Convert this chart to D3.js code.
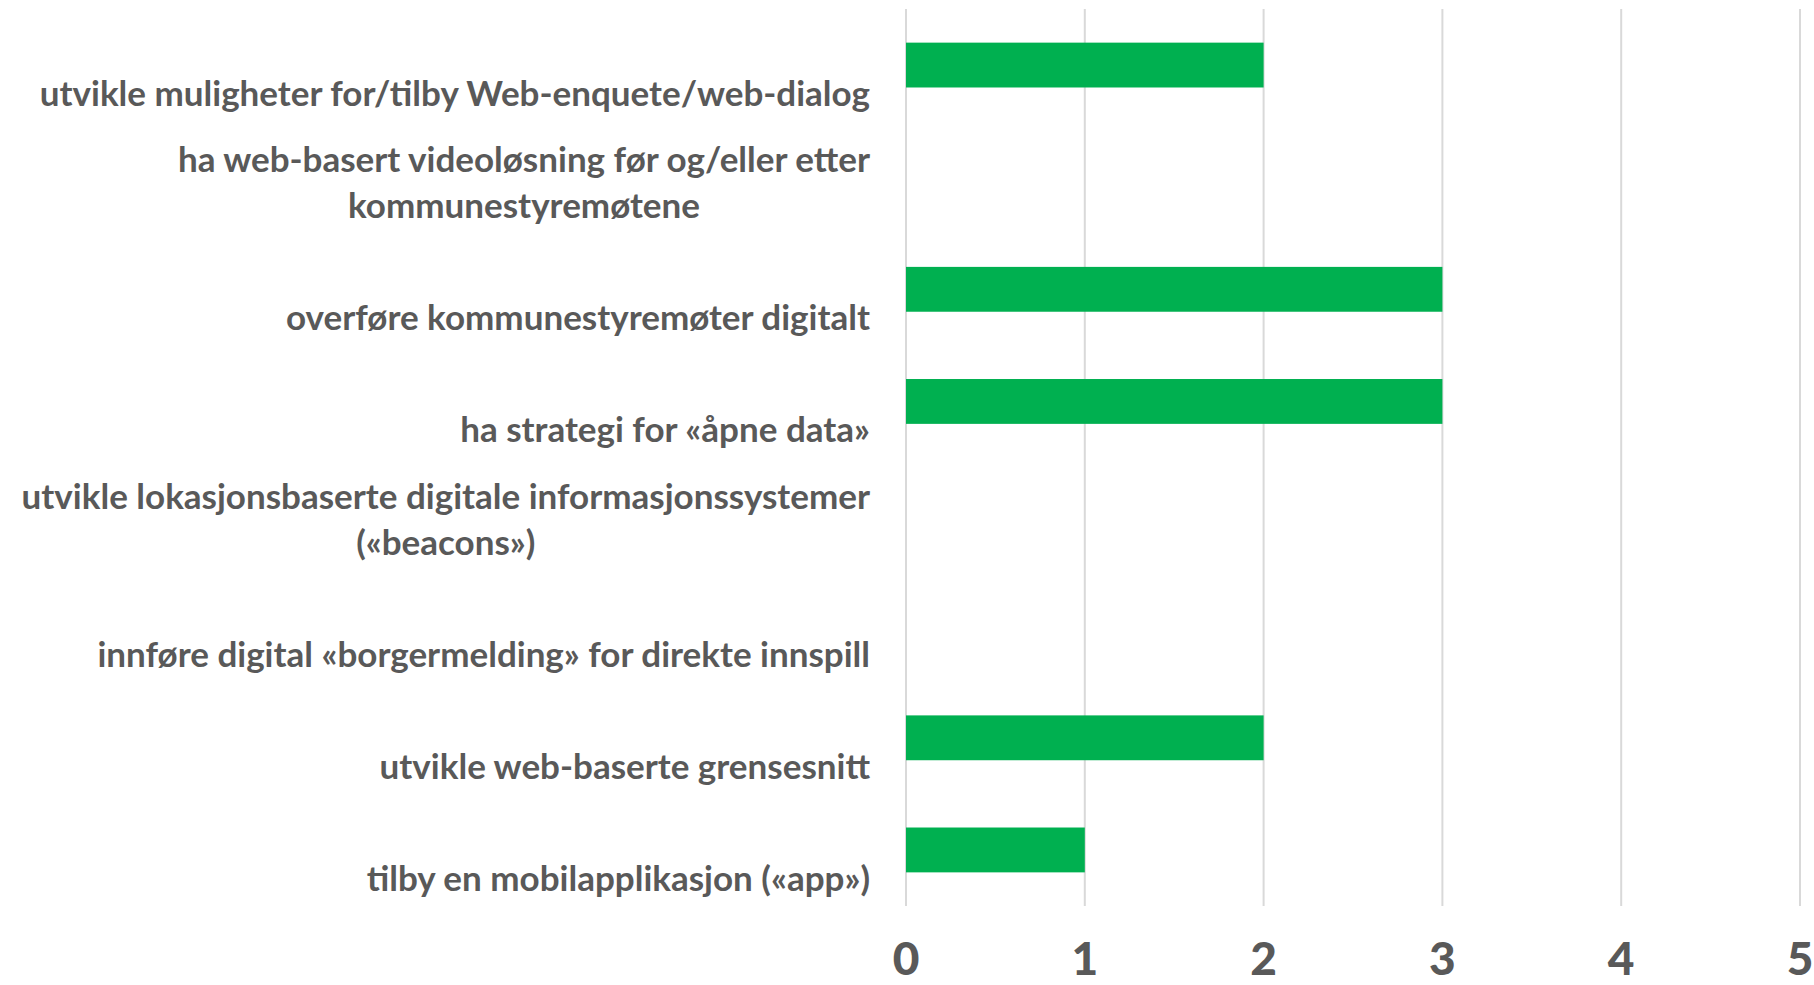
<!DOCTYPE html>
<html>
<head>
<meta charset="utf-8">
<script src="https://cdn.jsdelivr.net/npm/d3@7"></script>
<style>
  body { margin: 0; background: #fff; }
  svg { display: block; }
  text { font-family: Lato, "Open Sans", sans-serif; font-weight: bold; fill: #595959; }
</style>
</head>
<body>
<script>
"use strict";

// categories, top to bottom; each label split into its lines
var categories = [
    ["utvikle muligheter for/tilby Web-enquete/web-dialog"],
    ["ha web-basert videoløsning før og/eller etter", "kommunestyremøtene"],
    ["overføre kommunestyremøter digitalt"],
    ["ha strategi for «åpne data»"],
    ["utvikle lokasjonsbaserte digitale informasjonssystemer", "(«beacons»)"],
    ["innføre digital «borgermelding» for direkte innspill"],
    ["utvikle web-baserte grensesnitt"],
    ["tilby en mobilapplikasjon («app»)"]
];
var values = [2, 0, 3, 3, 0, 0, 2, 1];
var xTicks = [0, 1, 2, 3, 4, 5];

var W = 1814, H = 985;
var margin = {top: 9, right: 14, bottom: 79, left: 906};

function makeChart(){
    var svg = d3.select("body").append("svg").attr("width", W).attr("height", H);

    var x = d3.scaleLinear().domain([0, 5]).range([margin.left, W - margin.right]);
    var y = d3.scaleBand().domain(d3.range(categories.length))
        .range([margin.top, H - margin.bottom]).paddingInner(0.6).paddingOuter(0.3);

    // vertical gridlines
    svg.append("g").selectAll("line").data(xTicks).join("line")
        .attr("x1", function(d){ return x(d); }).attr("x2", function(d){ return x(d); })
        .attr("y1", margin.top).attr("y2", H - margin.bottom)
        .attr("stroke", "#d9d9d9").attr("stroke-width", 2);

    // bars
    svg.append("g").selectAll("rect").data(values).join("rect")
        .attr("x", x(0))
        .attr("y", function(d, i){ return y(i); })
        .attr("width", function(d){ return x(d) - x(0); })
        .attr("height", y.bandwidth())
        .attr("fill", "#00b050");

    // x axis tick labels
    svg.append("g").selectAll("text").data(xTicks).join("text")
        .attr("x", function(d){ return x(d); })
        .attr("y", 975)
        .attr("text-anchor", "middle")
        .attr("font-size", 46)
        .style("font-weight", 900)
        .text(function(d){ return d; });

    // category labels, last line sits a bit under the bar centre
    var lineH = 46;
    var labels = svg.append("g").selectAll("text").data(categories).join("text")
        .attr("text-anchor", "end")
        .attr("font-size", 35);
    labels.each(function(lines, i){
        var cy = y(i) + y.bandwidth() / 2 + 29 + 12;
        var t = d3.select(this);
        lines.forEach(function(s, j){
            t.append("tspan")
                .attr("x", 870)
                .attr("y", cy - (lines.length - 1 - j) * lineH)
                .text(s);
        });
    });
    // second lines are centred under the first
    labels.each(function(lines){
        if (lines.length < 2) return;
        var spans = d3.select(this).selectAll("tspan").nodes();
        var w0 = spans[0].getComputedTextLength();
        d3.select(spans[1]).attr("x", 870 - w0 / 2).attr("text-anchor", "middle");
    });
}

makeChart();
</script>
</body>
</html>
